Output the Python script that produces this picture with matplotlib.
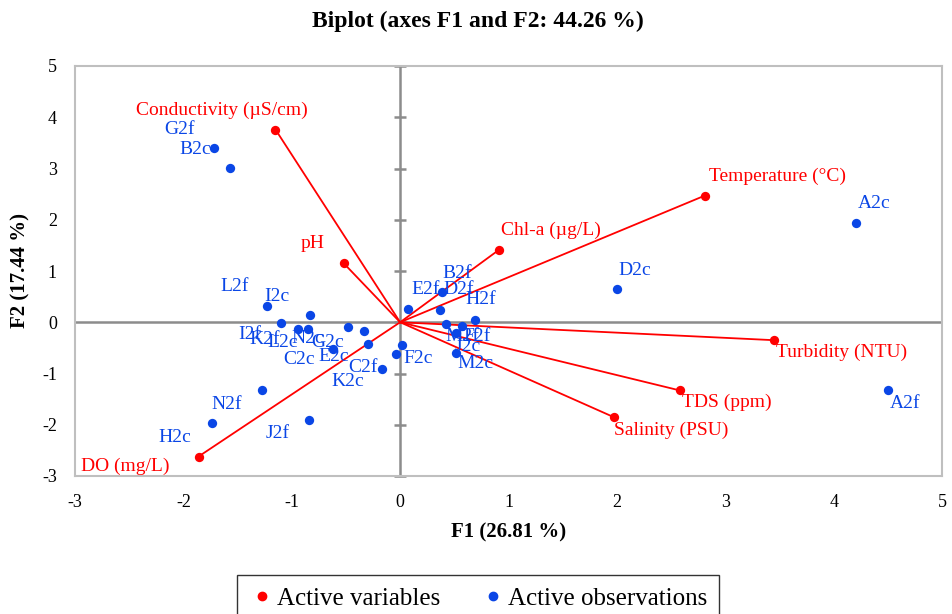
"""Biplot F1/F2 - variables (rojo) y observaciones (azul)."""
import matplotlib
matplotlib.use("Agg")
import matplotlib.pyplot as plt
from matplotlib.lines import Line2D

plt.rcParams["axes.unicode_minus"] = False

# --- datos ---
var_names = ["Conductivity (µS/cm)", "pH", "Chl-a (µg/L)", "Temperature (°C)",
             "Turbidity (NTU)", "TDS (ppm)", "Salinity (PSU)", "DO (mg/L)"]
var_f1 = [-1.15, -0.52, 0.91, 2.81, 3.45, 2.58, 1.97, -1.86]
var_f2 = [3.76, 1.15, 1.41, 2.47, -0.35, -1.33, -1.85, -2.62]

obs_names = ["G2f", "B2c", "L2f", "I2c", "I2f", "K2f", "L2c", "N2c", "G2c", "E2c",
             "C2c", "C2f", "K2c", "F2c", "E2f", "D2f", "B2f", "H2f", "M2f", "F2f",
             "J2c", "M2c", "D2c", "A2c", "A2f", "N2f", "H2c", "J2f"]
obs_f1 = [-1.72, -1.57, -1.23, -0.83, -1.10, -0.94, -0.85, -0.48, -0.33, -0.30,
          -0.62, -0.04, -0.17, 0.02, 0.07, 0.37, 0.39, 0.69, 0.42, 0.57,
          0.52, 0.52, 2.00, 4.21, 4.50, -1.27, -1.74, -0.84]
obs_f2 = [3.40, 3.01, 0.32, 0.14, -0.01, -0.13, -0.14, -0.09, -0.18, -0.42,
          -0.52, -0.62, -0.91, -0.45, 0.26, 0.24, 0.59, 0.04, -0.03, -0.07,
          -0.21, -0.60, 0.65, 1.94, -1.33, -1.32, -1.97, -1.91]

# desplazamiento de etiquetas (pixeles, y hacia arriba)
var_off = [(-54, 19), (-31, 20), (52, 20), (73, 19), (68, -12), (47, -12), (58, -13), (-73, -10)]
obs_off = [(-34, 19), (-35, 18), (-32, 19), (-33, 19), (-31, -12), (-34, -11), (-25, -13),
           (-40, -12), (-37, -11), (-34, -13), (-34, -11), (-33, -13), (-34, -13), (16, -13),
           (18, 19), (18, 20), (15, 19), (6, 21), (17, -13), (15, -11), (11, -13), (19, -11),
           (18, 18), (18, 19), (17, -13), (-36, -15), (-37, -14), (-31, -13)]

RED = "#FF0000"
BLUE = "#0A46E6"
SERIF = "Liberation Serif"

fig = plt.figure(figsize=(9.52, 6.14), dpi=100)
ax = fig.add_axes([75/952, 1-476/614, 867/952, 410/614])
ax.set_xlim(-3, 5); ax.set_ylim(-3, 5)
ax.set_xticks(range(-3, 6)); ax.set_yticks(range(-3, 6))
ax.tick_params(length=0, labelsize=13, pad=13)
for lab in ax.get_xticklabels() + ax.get_yticklabels():
    lab.set_fontfamily(SERIF)
for s in ax.spines.values():
    s.set_color("#BFBFBF"); s.set_linewidth(1.5)

# ejes en cero con marcas
ax.axhline(0, color="#8C8C8C", lw=1.8, zorder=1)
ax.axvline(0, color="#8C8C8C", lw=1.8, zorder=1)
ax.plot([0]*9, range(-3, 6), ls="none", marker="_", ms=9, mew=1.8, color="#8C8C8C", zorder=1, clip_on=False)

for x, y in zip(var_f1, var_f2):
    ax.plot([0, x], [0, y], color=RED, lw=1.3, zorder=2)
ax.scatter(var_f1, var_f2, s=45, color=RED, zorder=4, linewidths=0)
ax.scatter(obs_f1, obs_f2, s=45, color=BLUE, zorder=3, linewidths=0)

for n, x, y, o in zip(var_names, var_f1, var_f2, var_off):
    ax.annotate(n, (x, y), xytext=o, textcoords="offset pixels", ha="center", va="center",
                color=RED, fontsize=14, family=SERIF, zorder=5, annotation_clip=False)
for n, x, y, o in zip(obs_names, obs_f1, obs_f2, obs_off):
    ax.annotate(n, (x, y), xytext=o, textcoords="offset pixels", ha="center", va="center",
                color=BLUE, fontsize=14, family=SERIF, zorder=5)

ax.set_xlabel("F1 (26.81 %)", fontsize=15, fontweight="bold", family=SERIF, labelpad=8)
ax.set_ylabel("F2 (17.44 %)", fontsize=15, fontweight="bold", family=SERIF, labelpad=8)
fig.text(478/952, 1-21/614, "Biplot (axes F1 and F2: 44.26 %)", ha="center", va="center",
         fontsize=17, fontweight="bold", family=SERIF)

handles = [Line2D([], [], ls="none", marker="o", ms=6, color=RED, label="Active variables"),
           Line2D([], [], ls="none", marker="o", ms=6, color=BLUE, label="Active observations")]
leg = fig.legend(handles=handles, loc="upper center", bbox_to_anchor=(478/952, 1-575/614), ncol=2,
                 prop={"family": SERIF, "size": 18}, frameon=True, fancybox=False, borderaxespad=0,
                 handletextpad=0.1, columnspacing=1.6, borderpad=0.5, handlelength=1.0)
leg.get_frame().set_edgecolor("black"); leg.get_frame().set_linewidth(1.0)

fig.savefig("out.png", dpi=100)
